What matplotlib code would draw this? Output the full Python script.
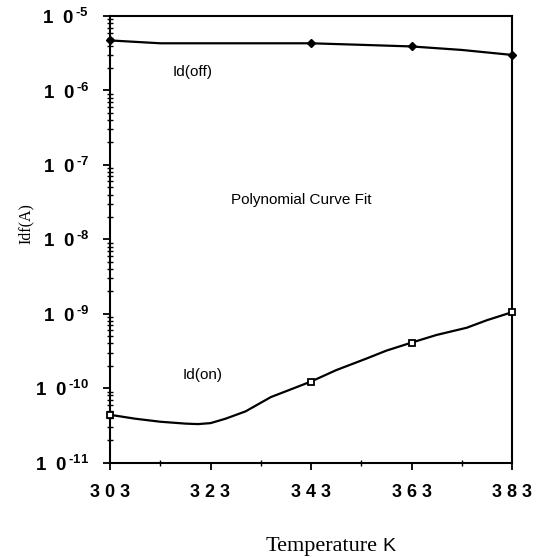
import numpy as np
import matplotlib
matplotlib.use("Agg")
import matplotlib.pyplot as plt
from matplotlib.ticker import FixedLocator, FuncFormatter, LogLocator, NullFormatter

# measured data points (markers)
temps = [303, 343, 363, 383]
id_off = [4.7e-6, 4.3e-6, 3.9e-6, 3.0e-6]
id_on = [4.4e-11, 1.23e-10, 4.1e-10, 1.05e-9]

# polynomial fit curves
fit_off_t = [303, 313, 323, 333, 343, 353, 363, 373, 383]
fit_off = [4.7e-6, 4.3e-6, 4.3e-6, 4.3e-6, 4.3e-6, 4.1e-6, 3.9e-6, 3.5e-6, 3.0e-6]
fit_on_t = [303, 308, 313, 318, 320.5, 323, 326, 330, 335, 343, 348, 354, 358, 363, 368, 374, 378, 383]
fit_on = [4.4e-11, 3.9e-11, 3.55e-11, 3.35e-11, 3.3e-11, 3.4e-11, 3.9e-11, 4.9e-11, 7.6e-11,
          1.23e-10, 1.75e-10, 2.5e-10, 3.2e-10, 4.1e-10, 5.2e-10, 6.5e-10, 8.2e-10, 1.05e-9]

xticks = [303, 323, 343, 363, 383]
xminor = [313, 333, 353, 373]
xlabels = ["3 0 3", "3 2 3", "3 4 3", "3 6 3", "3 8 3"]

plt.rcParams["mathtext.fontset"] = "custom"
plt.rcParams["mathtext.rm"] = "Liberation Sans:bold"
plt.rcParams["mathtext.it"] = "Liberation Sans:bold"
plt.rcParams["mathtext.bf"] = "Liberation Sans:bold"

fig = plt.figure(figsize=(5.46, 5.58), dpi=100)
ax = fig.add_axes([110 / 546, 1 - 462.7 / 558, 402 / 546, 446.7 / 558])

ax.plot(fit_off_t, fit_off, color="black", linewidth=1.6)
ax.plot(fit_on_t, fit_on, color="black", linewidth=1.6)
ax.plot(temps, id_off, linestyle="none", marker="D", markersize=4,
        color="black", clip_on=False, zorder=5)
ax.plot(temps, id_on, linestyle="none", marker="s", markersize=5,
        markerfacecolor="white", markeredgecolor="black", markeredgewidth=1.3,
        clip_on=False, zorder=5)

ax.set_yscale("log")
ax.set_ylim(1e-11, 1e-5)
ax.set_xlim(303, 383)

ax.yaxis.set_major_locator(LogLocator(base=10, numticks=10))
ax.yaxis.set_minor_locator(LogLocator(base=10, subs=np.arange(2, 10), numticks=10))
ax.yaxis.set_minor_formatter(NullFormatter())
ax.yaxis.set_major_formatter(FuncFormatter(
    lambda v, p: "1  0$^{\\,\\text{-}%d}$" % abs(int(round(np.log10(v))))))

ax.xaxis.set_major_locator(FixedLocator(xticks))
ax.xaxis.set_minor_locator(FixedLocator(xminor))
ax.set_xticklabels(xlabels)

for s in ax.spines.values():
    s.set_linewidth(1.5)

ax.tick_params(axis="both", which="major", direction="out", length=5, width=1.3)
ax.tick_params(axis="both", which="minor", direction="inout", length=4, width=1.0)
ax.tick_params(axis="x", labelsize=13, pad=10)
ax.tick_params(axis="y", labelsize=13.5, pad=10)
for lab in ax.get_xticklabels() + ax.get_yticklabels():
    lab.set_fontfamily("Liberation Sans")
    lab.set_fontweight("bold")

ax.text(315.5, 1.78e-6, "Id(off)", fontsize=11, family="Liberation Sans",
        ha="left", va="center")
ax.text(327, 3.4e-8, "Polynomial Curve Fit", fontsize=11, family="Liberation Sans",
        ha="left", va="center")
ax.text(317.4, 1.5e-10, "Id(on)", fontsize=11, family="Liberation Sans",
        ha="left", va="center")

fig.text(26 / 546, 1 - 224 / 558, "Idf(A)", fontsize=11.5, family="Liberation Serif",
         rotation=90, ha="center", va="center")
fig.text(378 / 546, 1 - 551 / 558, "Temperature", fontsize=16, family="Liberation Serif",
         ha="right", va="baseline")
fig.text(382 / 546, 1 - 551 / 558, "K", fontsize=14, family="Liberation Sans",
         ha="left", va="baseline")

fig.savefig("out.png", dpi=100)
